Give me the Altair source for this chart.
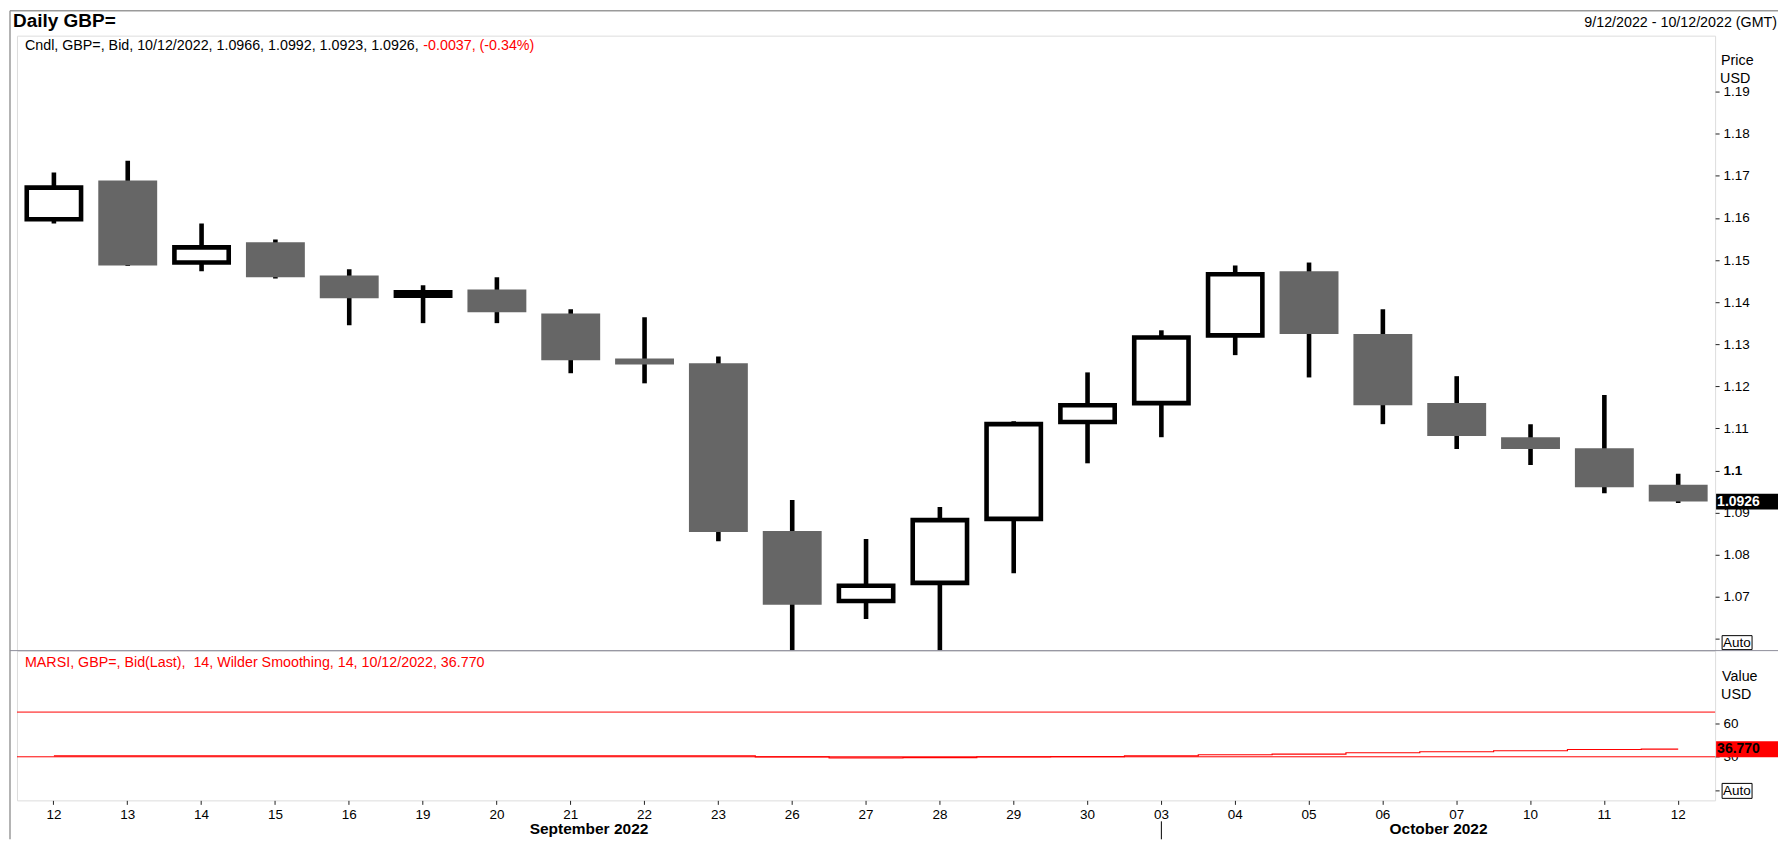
import altair as alt
import pandas as pd

# ---------------- data ----------------
dates = ["2022-09-12", "2022-09-13", "2022-09-14", "2022-09-15", "2022-09-16",
         "2022-09-19", "2022-09-20", "2022-09-21", "2022-09-22", "2022-09-23",
         "2022-09-26", "2022-09-27", "2022-09-28", "2022-09-29", "2022-09-30",
         "2022-10-03", "2022-10-04", "2022-10-05", "2022-10-06", "2022-10-07",
         "2022-10-10", "2022-10-11", "2022-10-12"]
opens = [1.1597, 1.1689, 1.1494, 1.1542, 1.1463, 1.1415, 1.1430, 1.1373, 1.1266, 1.1255,
         1.0856, 1.0690, 1.0733, 1.0885, 1.1115, 1.1160, 1.1321, 1.1473, 1.1324, 1.1160,
         1.1079, 1.1053, 1.0966]
highs = [1.1708, 1.1736, 1.1587, 1.1549, 1.1478, 1.1440, 1.1459, 1.1383, 1.1364, 1.1271,
         1.0930, 1.0837, 1.0913, 1.1117, 1.1233, 1.1333, 1.1487, 1.1494, 1.1383, 1.1224,
         1.1110, 1.1179, 1.0992]
lows = [1.1587, 1.1486, 1.1473, 1.1456, 1.1345, 1.1350, 1.1350, 1.1231, 1.1207, 1.0832,
        1.0350, 1.0647, 1.0540, 1.0756, 1.1017, 1.1079, 1.1274, 1.1221, 1.1110, 1.1051,
        1.1013, 1.0946, 1.0923]
closes = [1.1672, 1.1487, 1.1530, 1.1459, 1.1409, 1.1423, 1.1376, 1.1262, 1.1252, 1.0854,
          1.0681, 1.0726, 1.0882, 1.1110, 1.1155, 1.1316, 1.1466, 1.1324, 1.1155, 1.1082,
          1.1051, 1.0960, 1.0926]
rsi = [30.9, 30.9, 30.8, 30.8, 30.8, 30.8, 30.8, 30.8, 30.8, 30.8,
       30.0, 29.1, 29.2, 30.0, 30.2, 30.9, 31.8, 32.3, 33.6, 34.5,
       35.4, 36.5, 36.77]
rsi_levels = [70, 30]
price_ticks = [1.06, 1.07, 1.08, 1.09, 1.10, 1.11, 1.12, 1.13, 1.14, 1.15, 1.16, 1.17, 1.18, 1.19]
rsi_ticks = [0, 30, 60]
month_labels = ["September 2022", "October 2022"]
month_start = ["2022-10-03"]

title_txt = "Daily GBP="
range_txt = "9/12/2022 - 10/12/2022 (GMT)"
cndl_black = "Cndl, GBP=, Bid, 10/12/2022, 1.0966, 1.0992, 1.0923, 1.0926, "
cndl_red = "-0.0037, (-0.34%)"
rsi_txt = "MARSI, GBP=, Bid(Last), \u00a014, Wilder Smoothing, 14, 10/12/2022, 36.770"

df = pd.DataFrame(dict(date=dates, open=opens, high=highs, low=lows, close=closes, rsi=rsi))

FONT = "Liberation Sans"
W, H1, H2 = 1701, 616, 150
BORDER = "#8e8e9a"
GRAY = "#666666"
FS = 14.3

base = alt.Chart(df)
xs = alt.Scale(paddingInner=0, paddingOuter=0)
x_top = alt.X("date:N", sort=dates, scale=xs, axis=None)

yscale = alt.Scale(domain=[1.0572, 1.2033], nice=False, zero=False)
price_axis = alt.Axis(
    orient="right", values=price_ticks, title=None, grid=False, domain=False,
    tickSize=4, tickColor="#222222", labelPadding=4, labelFontSize=13.5, labelColor="black",
    labelFont=FONT, zindex=0,
    labelExpr="datum.value < 1.065 ? '' : (abs(datum.value - 1.1) < 1e-6 ? '1.1' : format(datum.value, '.2f'))",
    labelFontWeight=alt.condition("abs(datum.value - 1.1) < 1e-6", alt.value("bold"), alt.value("normal")),
)


def txt(s, x, y, **kw):
    return alt.Chart(pd.DataFrame({"t": [s]})).mark_text(font=FONT, **kw).encode(
        x=alt.value(x), y=alt.value(y), text="t:N")


wick = base.mark_rule(color="black", strokeWidth=4.6, clip=True).encode(
    x=x_top, y=alt.Y("low:Q", scale=yscale, axis=price_axis), y2="high:Q")
down = base.transform_filter("datum.close < datum.open").mark_bar(size=59, color=GRAY).encode(
    x=x_top, y=alt.Y("open:Q", scale=yscale, axis=price_axis), y2="close:Q")
up = base.transform_filter("datum.close >= datum.open").mark_bar(
    size=54.4, fill="white", stroke="black", strokeWidth=4.6).encode(
    x=x_top, y=alt.Y("open:Q", scale=yscale, axis=price_axis), y2="close:Q")

last = base.transform_filter(f"datum.date == '{dates[-1]}'")
pbox = last.mark_tick(orient="horizontal", thickness=16, size=62, color="black", opacity=1).encode(
    x=alt.value(1733), y=alt.Y("close:Q", scale=yscale, axis=price_axis))
ptext = last.mark_text(font=FONT, align="left", baseline="middle", color="white",
                       fontWeight="bold", fontSize=14).encode(
    x=alt.value(1703), y=alt.Y("close:Q", scale=yscale, axis=price_axis),
    text=alt.Text("close:Q", format=".4f"))

one = pd.DataFrame({"a": [0]})
auto_box1 = alt.Chart(one).mark_rect(fill="white", stroke="black", strokeWidth=1).encode(
    x=alt.value(1708), x2=alt.value(1738), y=alt.value(601), y2=alt.value(615))
frame_t = alt.Chart(one).mark_rule(color="#9a9a9a", strokeWidth=1.5).encode(
    x=alt.value(-7), x2=alt.value(1764), y=alt.value(-25))
frame_l = alt.Chart(one).mark_rule(color="#9a9a9a", strokeWidth=1.5).encode(
    x=alt.value(-7), y=alt.value(-25), y2=alt.value(805))

panel1 = alt.layer(
    frame_t, frame_l, wick, down, up, pbox, ptext, auto_box1,
    txt("Auto", 1709, 608, align="left", baseline="middle", fontSize=13.5, color="black"),
    txt(title_txt, -4, -15, align="left", baseline="middle", fontSize=19, fontWeight="bold", color="black"),
    txt(range_txt, 1763, -13, align="right", baseline="middle", fontSize=FS, color="black"),
    txt(cndl_black, 8, 10, align="left", baseline="middle", fontSize=FS, color="black"),
    txt(cndl_red, 407, 10, align="left", baseline="middle", fontSize=FS, color="#ff0000"),
    txt("Price", 1707, 25, align="left", baseline="middle", fontSize=FS, color="black"),
    txt("USD", 1706, 43, align="left", baseline="middle", fontSize=FS, color="black"),
).properties(width=W, height=H1)

# ---------------- RSI panel ----------------
rscale = alt.Scale(domain=[-9, 125], nice=False, zero=False)
rsi_axis = alt.Axis(
    orient="right", values=rsi_ticks, title=None, grid=False, domain=False,
    tickSize=4, tickColor="#222222", labelPadding=4, labelFontSize=13.5, labelColor="black",
    labelFont=FONT, zindex=0, labelExpr="datum.value == 0 ? '' : datum.label")
x_axis = alt.Axis(
    orient="bottom", labelExpr="substring(datum.value, 8, 10)", labelAngle=0, domain=False,
    tickSize=4, tickColor="#222222", labelPadding=3, labelFontSize=13.5, labelColor="black",
    labelFont=FONT, grid=False, zindex=0)
x_bot = alt.X("date:N", sort=dates, scale=xs, title=None, axis=x_axis)

levels = alt.Chart(pd.DataFrame({"lvl": rsi_levels})).mark_rule(color="#ff0000", strokeWidth=1).encode(
    y=alt.Y("lvl:Q", scale=rscale, axis=rsi_axis))
rline = base.mark_line(interpolate="step", color="#ff0000", strokeWidth=1.2).encode(
    x=x_bot, y=alt.Y("rsi:Q", scale=rscale, axis=rsi_axis))
rbox = last.mark_tick(orient="horizontal", thickness=16, size=62, color="#ff0000", opacity=1).encode(
    x=alt.value(1733), y=alt.Y("rsi:Q", scale=rscale, axis=rsi_axis))
rtext = last.mark_text(font=FONT, align="left", baseline="middle", color="black",
                       fontWeight="bold", fontSize=14).encode(
    x=alt.value(1703), y=alt.Y("rsi:Q", scale=rscale, axis=rsi_axis),
    text=alt.Text("rsi:Q", format=".3f"))
sep = alt.Chart(pd.DataFrame({"date": month_start})).mark_rule(color="black", strokeWidth=1).encode(
    x=x_bot, y=alt.value(171), y2=alt.value(189))
topline = alt.Chart(one).mark_rule(color=BORDER, strokeWidth=1).encode(
    x=alt.value(-7), x2=alt.value(1764), y=alt.value(0))
auto_box2 = alt.Chart(one).mark_rect(fill="white", stroke="black", strokeWidth=1).encode(
    x=alt.value(1708), x2=alt.value(1738), y=alt.value(133), y2=alt.value(148))

panel2 = alt.layer(
    topline, levels, rline, rbox, rtext, sep, auto_box2,
    txt("Auto", 1709, 141, align="left", baseline="middle", fontSize=13.5, color="black"),
    txt(rsi_txt, 8, 12, align="left", baseline="middle", fontSize=FS, color="#ff0000"),
    txt("Value", 1708, 26, align="left", baseline="middle", fontSize=FS, color="black"),
    txt("USD", 1707, 44, align="left", baseline="middle", fontSize=FS, color="black"),
    txt(month_labels[0], 573, 179, align="center", baseline="middle", fontSize=15.5, fontWeight="bold", color="black"),
    txt(month_labels[1], 1424, 179, align="center", baseline="middle", fontSize=15.5, fontWeight="bold", color="black"),
).properties(width=W, height=H2)

chart = alt.vconcat(panel1, panel2, spacing=0, bounds="flush").resolve_scale(
    y="independent"
).properties(
    padding=0,
    background="white",
).configure_view(
    stroke=BORDER, strokeWidth=1
).configure(font=FONT)

chart.save("out.html", embed_options={"renderer": "svg", "actions": False})
